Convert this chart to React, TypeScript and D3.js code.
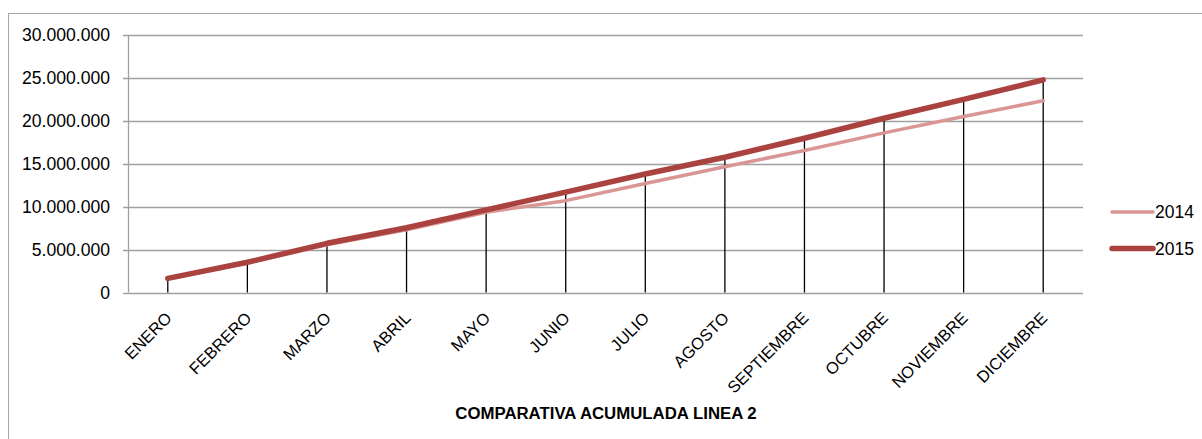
import React, { useEffect, useRef } from "react";
import * as d3 from "d3";

const months = ["ENERO", "FEBRERO", "MARZO", "ABRIL", "MAYO", "JUNIO", "JULIO", "AGOSTO", "SEPTIEMBRE", "OCTUBRE", "NOVIEMBRE", "DICIEMBRE"];
const values2014 = [1600000, 3450000, 5550000, 7300000, 9350000, 10700000, 12700000, 14650000, 16550000, 18600000, 20500000, 22350000];
const values2015 = [1650000, 3520000, 5730000, 7550000, 9620000, 11700000, 13800000, 15760000, 17970000, 20300000, 22500000, 24770000];
const yTicks = [0, 5000000, 10000000, 15000000, 20000000, 25000000, 30000000];
const chartTitle = "COMPARATIVA ACUMULADA LINEA 2";

const series = [
  { name: "2014", values: values2014, color: "#d99694", width: 3.5 },
  { name: "2015", values: values2015, color: "#aa4340", width: 5.5 },
];

const App = () => {
  const ref = useRef<SVGSVGElement>(null);

  useEffect(() => {
    const svg = d3.select(ref.current);
    svg.selectAll("*").remove();

    const width = 1202;
    const height = 439;
    const margin = { top: 35, left: 128, right: 1083, bottom: 292.5 };
    const font = "'Liberation Sans', Arial, sans-serif";

    const x = d3.scaleBand<string>().domain(months).range([margin.left, margin.right]).padding(0);
    const y = d3.scaleLinear().domain([0, 30000000]).range([margin.bottom, margin.top]);
    const cx = (m: string) => (x(m) as number) + x.bandwidth() / 2;

    const fmt = d3.formatLocale({ decimal: ",", thousands: ".", grouping: [3], currency: ["", ""] }).format(",d");

    svg.attr("width", width).attr("height", height);

    // marco exterior
    svg.append("rect")
      .attr("x", 8.5).attr("y", 13.5)
      .attr("width", 1200).attr("height", 440)
      .attr("fill", "none").attr("stroke", "#a6a6a6").attr("stroke-width", 1);

    // lineas de cuadricula + etiquetas eje y
    yTicks.forEach(t => {
      svg.append("line")
        .attr("x1", margin.left - 5).attr("x2", margin.right)
        .attr("y1", Math.round(y(t)) + 0.5).attr("y2", Math.round(y(t)) + 0.5)
        .attr("stroke", "#a0a0a0").attr("stroke-width", 1.3);
      svg.append("text")
        .attr("x", 110).attr("y", y(t))
        .attr("dy", "0.35em")
        .attr("text-anchor", "end")
        .attr("font-family", font).attr("font-size", 17.6)
        .attr("fill", "#000")
        .text(fmt(t));
    });

    svg.append("line")
      .attr("x1", margin.left + 0.5).attr("x2", margin.left + 0.5)
      .attr("y1", margin.top).attr("y2", margin.bottom)
      .attr("stroke", "#a0a0a0").attr("stroke-width", 1.3);

    // lineas de caida
    months.forEach((m, i) => {
      const top = Math.max(values2014[i], values2015[i]);
      svg.append("line")
        .attr("x1", cx(m)).attr("x2", cx(m))
        .attr("y1", y(0)).attr("y2", y(top))
        .attr("stroke", "#000").attr("stroke-width", 1.3);
    });

    // series
    const line = d3.line<number>()
      .x((_, i) => cx(months[i]))
      .y(d => y(d));

    series.forEach(s => {
      svg.append("path")
        .attr("d", line(s.values))
        .attr("fill", "none")
        .attr("stroke", s.color)
        .attr("stroke-width", s.width)
        .attr("stroke-linecap", "round")
        .attr("stroke-linejoin", "round");
    });

    // etiquetas eje x
    months.forEach(m => {
      svg.append("text")
        .attr("transform", `translate(${cx(m) + 1},${315}) rotate(-45)`)
        .attr("text-anchor", "end")
        .attr("dy", "0.35em")
        .attr("font-family", font).attr("font-size", 16.5)
        .attr("fill", "#000")
        .text(m);
    });

    // leyenda
    series.forEach((s, i) => {
      const ly = 212 + i * 36.5;
      svg.append("line")
        .attr("x1", 1112).attr("x2", 1153)
        .attr("y1", ly).attr("y2", ly)
        .attr("stroke", s.color).attr("stroke-width", s.width)
        .attr("stroke-linecap", "round");
      svg.append("text")
        .attr("x", 1155).attr("y", ly)
        .attr("dy", "0.35em")
        .attr("font-family", font).attr("font-size", 17.5)
        .attr("fill", "#000")
        .text(s.name);
    });

    // titulo
    svg.append("text")
      .attr("x", 606).attr("y", 413)
      .attr("dy", "0.35em")
      .attr("text-anchor", "middle")
      .attr("font-family", font).attr("font-size", 16.8).attr("font-weight", "bold")
      .attr("fill", "#000")
      .text(chartTitle);
  }, []);

  return <svg ref={ref} style={{ position: "absolute", left: 0, top: 0 }}></svg>;
};

export default App;
